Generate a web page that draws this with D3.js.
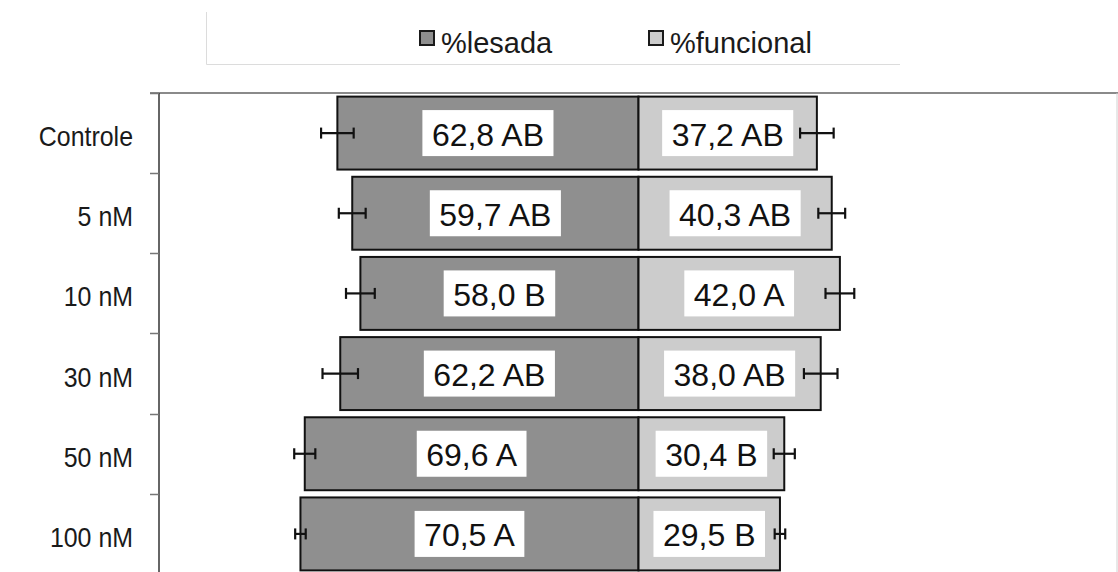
<!DOCTYPE html>
<html>
<head>
<meta charset="utf-8">
<script src="https://cdn.jsdelivr.net/npm/d3@7"></script>
<style>
  html, body { margin: 0; padding: 0; background: #fff; }
  svg { display: block; font-family: "Liberation Sans", Arial, sans-serif; }
</style>
</head>
<body>
<svg id="chart" width="1118" height="572"></svg>
<script>
// Treatments (concentration) and the share of lesioned vs functional cells
const categories = ["Controle", "5 nM", "10 nM", "30 nM", "50 nM", "100 nM"];
const lesada = [62.8, 59.7, 58.0, 62.2, 69.6, 70.5];
const funcional = [37.2, 40.3, 42.0, 38.0, 30.4, 29.5];
const lesadaLetters = ["AB", "AB", "B", "AB", "A", "A"];
const funcionalLetters = ["AB", "AB", "A", "AB", "B", "B"];
const errLesada = [3.4, 2.8, 3.0, 3.7, 2.2, 1.1];
const errFuncional = [3.5, 2.8, 3.0, 3.5, 2.2, 1.1];
const seriesNames = ["%lesada", "%funcional"];
const seriesColors = ["#8f8f8f", "#cccccc"];

const svg = d3.select("#chart");
const W = 1118;
const plot = { left: 159, right: 1118, top: 93, bottom: 574 };

// Diverging scale: lesada to the left of zero, funcional to the right
const x = d3.scaleLinear().domain([-100, 100]).range([plot.left, plot.right]);
const y = d3.scaleBand().domain(categories).range([plot.top, plot.bottom])
  .paddingInner(0.09).paddingOuter(0.045);

const fmtNum = d3.formatLocale({ decimal: ",", thousands: ".", grouping: [3], currency: ["", ""] }).format(".1f");

const rows = categories.map((c, i) => ({
  cat: c,
  les: lesada[i], fun: funcional[i],
  lesL: lesadaLetters[i], funL: funcionalLetters[i],
  eL: errLesada[i], eF: errFuncional[i]
}));

// Legend frame
const legend = svg.append("g");
legend.append("path")
  .attr("d", "M206.5,12 V64.5 H900")
  .attr("fill", "none").attr("stroke", "#dcdcdc").attr("stroke-width", 1);
const legendItems = [
  { name: seriesNames[0], color: seriesColors[0], x: 420 },
  { name: seriesNames[1], color: seriesColors[1], x: 649 }
];
legendItems.forEach(it => {
  legend.append("rect")
    .attr("x", it.x).attr("y", 31).attr("width", 14).attr("height", 14)
    .attr("fill", it.color).attr("stroke", "#1a1a1a").attr("stroke-width", 2);
  legend.append("text")
    .attr("x", it.x + 21).attr("y", 52.5)
    .attr("font-size", 29).attr("fill", "#1a1a1a")
    .text(it.name);
});

// Plot frame: top rule and right edge
svg.append("line")
  .attr("x1", 150).attr("x2", W).attr("y1", plot.top).attr("y2", plot.top)
  .attr("stroke", "#8a8a8a").attr("stroke-width", 2);
svg.append("line")
  .attr("x1", W - 1).attr("x2", W - 1).attr("y1", plot.top).attr("y2", 572)
  .attr("stroke", "#d0d0d0").attr("stroke-width", 1);

// Category axis with outward ticks at band boundaries
const yAxis = svg.append("g").attr("transform", `translate(${plot.left},0)`);
yAxis.append("line")
  .attr("x1", 0).attr("x2", 0).attr("y1", plot.top).attr("y2", 572)
  .attr("stroke", "#333").attr("stroke-width", 1.5);
const bounds = categories.map(c => y(c) - y.step() * y.paddingInner() / 2);
bounds.push(plot.bottom);
yAxis.selectAll("line.tick").data(bounds).enter().append("line")
  .attr("class", "tick")
  .attr("x1", -9).attr("x2", 0)
  .attr("y1", d => Math.round(d) + 0.5).attr("y2", d => Math.round(d) + 0.5)
  .attr("stroke", "#777").attr("stroke-width", 1.5);
// Labels are drawn slightly condensed
yAxis.selectAll("text.cat").data(categories).enter().append("text")
  .attr("class", "cat")
  .attr("transform", d => `translate(-26,${y(d) + y.bandwidth() / 2 + 13}) scale(0.89,1)`)
  .attr("text-anchor", "end")
  .attr("font-size", 28).attr("fill", "#1a1a1a")
  .text(d => d);

// Bars
const bars = svg.append("g");
bars.selectAll("rect.les").data(rows).enter().append("rect")
  .attr("class", "les")
  .attr("x", d => x(-d.les)).attr("width", d => x(0) - x(-d.les))
  .attr("y", d => y(d.cat)).attr("height", y.bandwidth())
  .attr("fill", seriesColors[0]).attr("stroke", "#111").attr("stroke-width", 2);
bars.selectAll("rect.fun").data(rows).enter().append("rect")
  .attr("class", "fun")
  .attr("x", x(0)).attr("width", d => x(d.fun) - x(0))
  .attr("y", d => y(d.cat)).attr("height", y.bandwidth())
  .attr("fill", seriesColors[1]).attr("stroke", "#111").attr("stroke-width", 2);

// Error bars at the bar ends
const errs = svg.append("g").attr("stroke", "#111").attr("stroke-width", 2.2);
function errorBar(cx, cy, e) {
  const x1 = x(cx - e), x2 = x(cx + e);
  errs.append("line").attr("x1", x1).attr("x2", x2).attr("y1", cy).attr("y2", cy);
  errs.append("line").attr("x1", x1).attr("x2", x1).attr("y1", cy - 5.5).attr("y2", cy + 5.5);
  errs.append("line").attr("x1", x2).attr("x2", x2).attr("y1", cy - 5.5).attr("y2", cy + 5.5);
}
rows.forEach(d => {
  const cy = y(d.cat) + y.bandwidth() / 2;
  errorBar(-d.les, cy, d.eL);
  errorBar(d.fun, cy, d.eF);
});

// Value labels in white boxes, centred in each bar segment
const labels = svg.append("g");
function valueLabel(cx, cy, txt) {
  const g = labels.append("g");
  const box = g.append("rect").attr("fill", "#fff");
  const t = g.append("text")
    .attr("x", cx).attr("y", cy + 12.5)
    .attr("text-anchor", "middle")
    .attr("font-size", 32).attr("fill", "#111")
    .text(txt);
  const w = t.node().getComputedTextLength() + 19;
  box.attr("x", cx - w / 2).attr("y", cy - 23).attr("width", w).attr("height", 46);
}
rows.forEach(d => {
  const cy = y(d.cat) + y.bandwidth() / 2;
  valueLabel((x(-d.les) + x(0)) / 2, cy, fmtNum(d.les) + " " + d.lesL);
  valueLabel((x(0) + x(d.fun)) / 2, cy, fmtNum(d.fun) + " " + d.funL);
});
</script>
</body>
</html>
